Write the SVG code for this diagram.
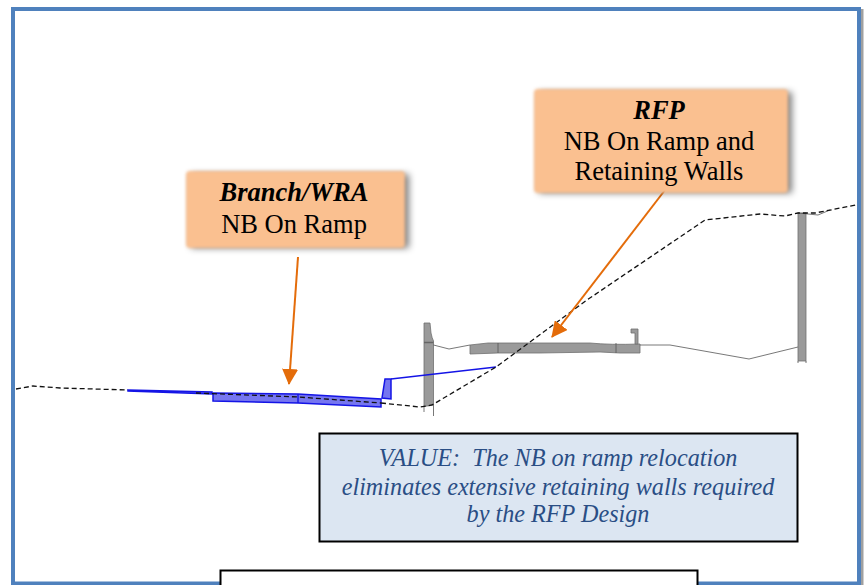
<svg xmlns="http://www.w3.org/2000/svg" width="865" height="585" viewBox="0 0 865 585">
<style>
text{font-family:"Liberation Serif","Times New Roman",serif;text-anchor:middle;white-space:pre}
.lbl{font-size:26.500px;fill:#000}
.b{font-weight:bold;font-style:italic}
.val{font-size:24.200px;font-style:italic;fill:#2a4e85}
.box{fill:#fac090}
.wall{fill:#9a9a9a;stroke:#707070;stroke-width:.8}
.ground{fill:none;stroke:#111;stroke-width:1.300;stroke-dasharray:5 3}
.thin{fill:none;stroke:#555;stroke-width:.8}
.blue{fill:#7676f0;stroke:#1414e6;stroke-width:1.500}
.bl{fill:none;stroke:#1414e6;stroke-width:1.400}
.arr{stroke:#e46c0a;stroke-width:2;fill:none}
</style>
<defs>
<filter id="blur" x="-10%" y="-20%" width="120%" height="140%"><feGaussianBlur stdDeviation="1.500"/></filter>
<filter id="shadow" x="-15%" y="-25%" width="130%" height="150%"><feGaussianBlur stdDeviation="3.500"/></filter>
<marker id="ah" markerUnits="userSpaceOnUse" markerWidth="18" markerHeight="16" refX="15" refY="8" orient="auto"><path d="M0 0L16 8L0 16Z" fill="#e46c0a"/></marker>
</defs>
<rect width="865" height="585" fill="#fff"/>
<g id="frame"><rect x="13" y="9" width="846" height="574.500" fill="none" stroke="#4f81bd" stroke-width="4"/><rect x="861" y="9" width="2.500" height="576" fill="#a0a0a0"/></g>
<g id="section">
<path class="wall" d="M424 323L430 323L431 333Q432 338 433.500 341L433.500 405L424 406.500Z"/>
<path d="M424 342.500H433.500" stroke="#666" stroke-width="1.500"/>
<path class="thin" d="M424 406V412M433.500 405V416"/>
<path class="thin" d="M433.500 345L449 349L470 345"/>
<path class="wall" d="M470 345L488 343H590Q610 345 640 344L640 353L620 353L600 352L540 353H498L470 354Z"/>
<path class="thin" d="M498 343V353M616 343V353"/>
<path class="wall" d="M631 329L638 329V344H635V333L631 333Z"/>
<path class="thin" d="M640 345H670L749 359L798 347"/>
<rect class="wall" x="798" y="213" width="8" height="148"/>
<path class="thin" d="M798 361V363M806 361V363M798 213L818 215L830 210"/>
<path class="ground" d="M16 389L33 386L60 388L128 390"/>
<path class="blue" d="M128 390L212 392V394L128 391Z"/>
<path class="blue" d="M213 393L298 394L381 399L381 407L298 403L213 401Z"/>
<path class="bl" d="M298 394V403"/>
<path class="blue" d="M382 398L385 379H391L391 399Z"/>
<path class="bl" d="M391 379L496 367"/>
<path class="ground" d="M196 393L298 397L381 403"/>
<path class="ground" d="M381 403L420 407L432 405L496 367L587 300L705 220L760 214L785 216L798 213L815 213L856 205"/>
</g>
<g id="connectors">
<line class="arr" x1="298" y1="257" x2="289" y2="384" marker-end="url(#ah)"/>
<line class="arr" x1="665" y1="190" x2="552" y2="337" marker-end="url(#ah)"/>
</g>
<g id="node-branch">
<rect x="191" y="174" width="218" height="74" fill="#000" opacity=".5" filter="url(#shadow)"/>
<rect class="box" x="186" y="171" width="219" height="77" rx="4" filter="url(#blur)"/>
<text class="lbl b" x="294" y="201">Branch/WRA</text>
<text class="lbl" x="294" y="233">NB On Ramp</text>
</g>
<g id="node-rfp">
<rect x="539" y="92" width="253" height="101" fill="#000" opacity=".5" filter="url(#shadow)"/>
<rect class="box" x="534" y="89" width="254" height="104" rx="4" filter="url(#blur)"/>
<text class="lbl b" x="659" y="119">RFP</text>
<text class="lbl" x="659" y="150">NB On Ramp and</text>
<text class="lbl" x="659" y="180">Retaining Walls</text>
</g>
<g id="node-value">
<rect x="319.500" y="433.500" width="478" height="108" fill="#dce6f2" stroke="#000" stroke-width="2"/>
<text class="val" x="558" y="466">VALUE:  The NB on ramp relocation</text>
<text class="val" x="558" y="495">eliminates extensive retaining walls required</text>
<text class="val" x="558" y="522">by the RFP Design</text>
</g>
<g id="node-bottom"><rect x="220.500" y="570.500" width="477" height="20" fill="#fff" stroke="#000" stroke-width="2"/></g>
</svg>
